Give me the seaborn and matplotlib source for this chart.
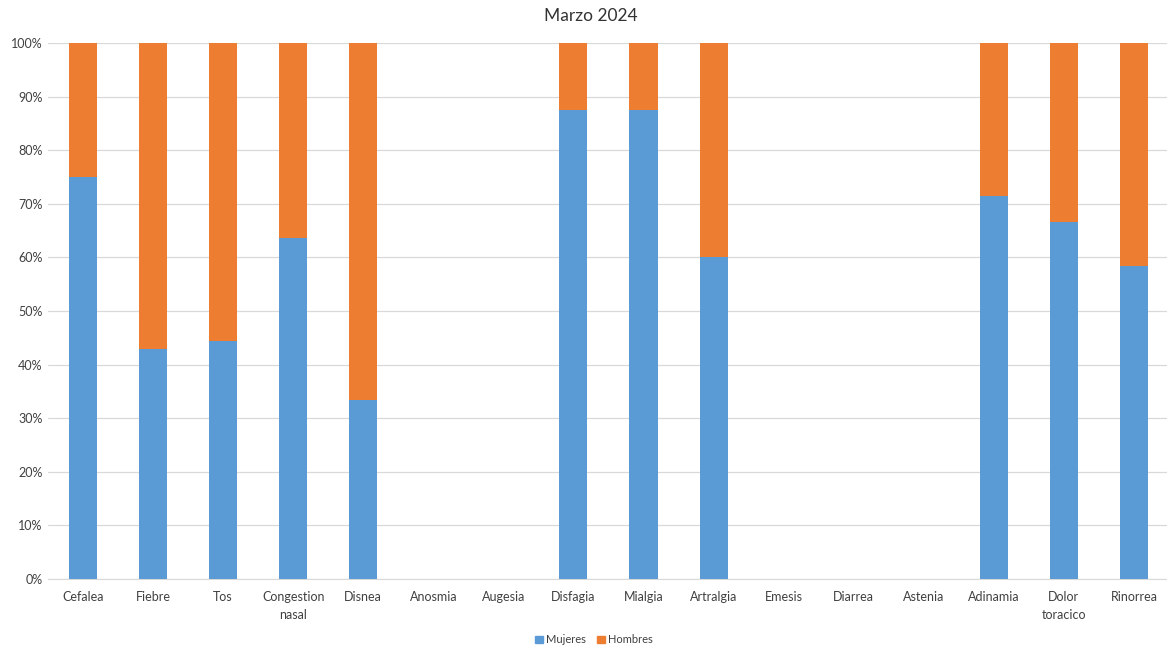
import matplotlib
matplotlib.use("Agg")
import numpy as np
import pandas as pd
import matplotlib.pyplot as plt
import seaborn as sns
from matplotlib.patches import Patch
from matplotlib.ticker import PercentFormatter

# ----------------------------
# DATOS (porcentajes por síntoma)
# ----------------------------
sintomas = ["Cefalea", "Fiebre", "Tos", "Congestion\nnasal", "Disnea", "Anosmia",
            "Augesia", "Disfagia", "Mialgia", "Artralgia", "Emesis", "Diarrea",
            "Astenia", "Adinamia", "Dolor\ntoracico", "Rinorrea"]
mujeres = [75.0, 42.86, 44.44, 63.64, 33.33, 0, 0, 87.5, 87.5, 60.0, 0, 0, 0, 71.43, 66.67, 58.33]
hombres = [25.0, 57.14, 55.56, 36.36, 66.67, 0, 0, 12.5, 12.5, 40.0, 0, 0, 0, 28.57, 33.33, 41.67]

AZUL = "#5B9BD5"
NARANJA = "#ED7D31"

df = pd.DataFrame({"sintoma": sintomas, "Mujeres": mujeres, "Hombres": hombres})
df["total"] = df["Mujeres"] + df["Hombres"]

sns.set_style("white")
plt.rcParams["font.family"] = ["Lato", "DejaVu Sans"]

fig = plt.figure(figsize=(11.67, 6.51), dpi=100)
ax = fig.add_axes([0.0411, 0.1106, 0.9606, 0.8234])

# apilado: primero el total (naranja), luego Mujeres encima (azul)
sns.barplot(data=df, x="sintoma", y="total", color=NARANJA, width=0.4,
            saturation=1, linewidth=0, ax=ax, zorder=3)
sns.barplot(data=df, x="sintoma", y="Mujeres", color=AZUL, width=0.4,
            saturation=1, linewidth=0, ax=ax, zorder=3)

ax.set_ylim(0, 100)
ax.set_xlim(-0.5, len(sintomas) - 0.5)
ax.set_yticks(np.arange(0, 101, 10))
ax.yaxis.set_major_formatter(PercentFormatter(decimals=0))
ax.grid(axis="y", color="#D9D9D9", linewidth=0.9, zorder=0)
ax.set_xlabel("")
ax.set_ylabel("")
for s in ["top", "right", "left"]:
    ax.spines[s].set_visible(False)
ax.spines["bottom"].set_color("#D9D9D9")
ax.tick_params(axis="both", length=0, labelsize=9, colors="#404040")
ax.tick_params(axis="x", pad=9)
ax.tick_params(axis="y", pad=4)
for lbl in ax.get_xticklabels():
    lbl.set_linespacing(1.55)

fig.text(0.506, 0.976, "Marzo 2024", fontsize=12.5, color="#333333",
         ha="center", va="center")

handles = [Patch(color=AZUL, label="Mujeres"), Patch(color=NARANJA, label="Hombres")]
fig.legend(handles=handles, loc="center", bbox_to_anchor=(0.509, 0.017), ncol=2,
           frameon=False, fontsize=8, handlelength=0.7, handleheight=0.7,
           handletextpad=0.3, columnspacing=1.0, labelcolor="#404040")

fig.savefig("out.png", dpi=100)
